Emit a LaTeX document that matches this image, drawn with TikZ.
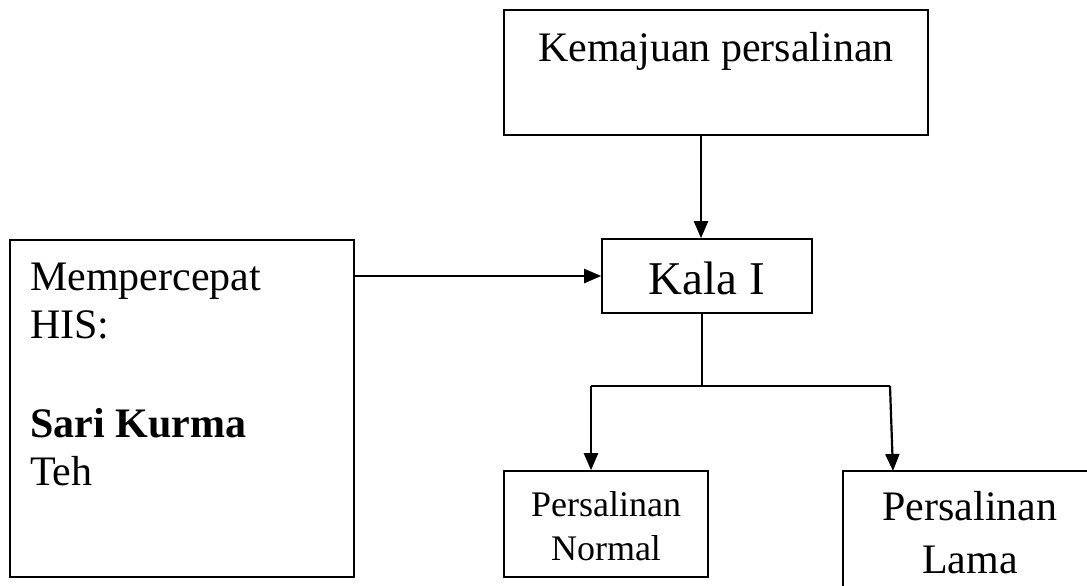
\documentclass[tikz,border=0pt]{standalone}
\usepackage{fontspec}
\setmainfont{Liberation Serif}
\usetikzlibrary{arrows.meta,calc}
\begin{document}
\begin{tikzpicture}[x=1pt,y=-1pt,
  box/.style={draw,line width=1.6pt,inner sep=0pt},
  arr/.style={line width=2.2pt,-{Triangle[width=14pt,length=17pt]}},
  conn/.style={line width=1.8pt},
  lbl/.style={anchor=base,inner sep=0pt},
  lbll/.style={anchor=base west,inner sep=0pt},
  big/.style={font=\fontsize{42}{48}\selectfont}]
\clip (0,0) rectangle (1087,586);
\fill[white] (0,0) rectangle (1087,586);
% boxes
\node[box,minimum width=424pt,minimum height=125pt] (top) at (716,72.5) {};
\node[box,minimum width=344pt,minimum height=337pt] (lbox) at (182,408.5) {};
\node[box,minimum width=210pt,minimum height=74pt] (kala) at (707,276) {};
\node[box,minimum width=204pt,minimum height=106pt] (normal) at (606,524) {};
\node[box,minimum width=254pt,minimum height=139pt] (lama) at (970,540.5) {};
% texts
\node[lbl,big] (t1) at (716,62) {Kemajuan persalinan};
\node[lbll,big] (l1) at (30,290) {Mempercepat};
\node[lbll,big] (l2) at (30,338) {HIS:};
\node[lbll,big] (l3) at (30,437) {\textbf{Sari Kurma}};
\node[lbll,big] (l4) at (30,485) {Teh};
\node[lbl,font=\fontsize{47}{54}\selectfont] (k1) at (707,294) {Kala I};
\node[lbl,font=\fontsize{36}{42}\selectfont] (n1) at (606,516) {Persalinan};
\node[lbl,font=\fontsize{36}{42}\selectfont] (n2) at (606,560) {Normal};
\node[lbl,big] (m1) at (970,520) {Persalinan};
\node[lbl,big] (m2) at (970,573) {Lama};
% connectors
\draw[arr] (lbox.east |- kala.west) -- (kala.west);
\draw[arr] ([xshift=-6pt]kala.north |- top.south) -- ([xshift=-6pt]kala.north);
\coordinate (j) at (702,386);
\coordinate (jl) at (591,386);
\coordinate (jr) at (890,386);
\coordinate (lt) at (893,471);
\draw[conn] ([xshift=-5pt]kala.south) -- (j);
\draw[conn] (jl) -- (jr);
\draw[arr] (jl) -- (jl |- normal.north);
\draw[arr] (jr) -- (lt);
\end{tikzpicture}
\end{document}
